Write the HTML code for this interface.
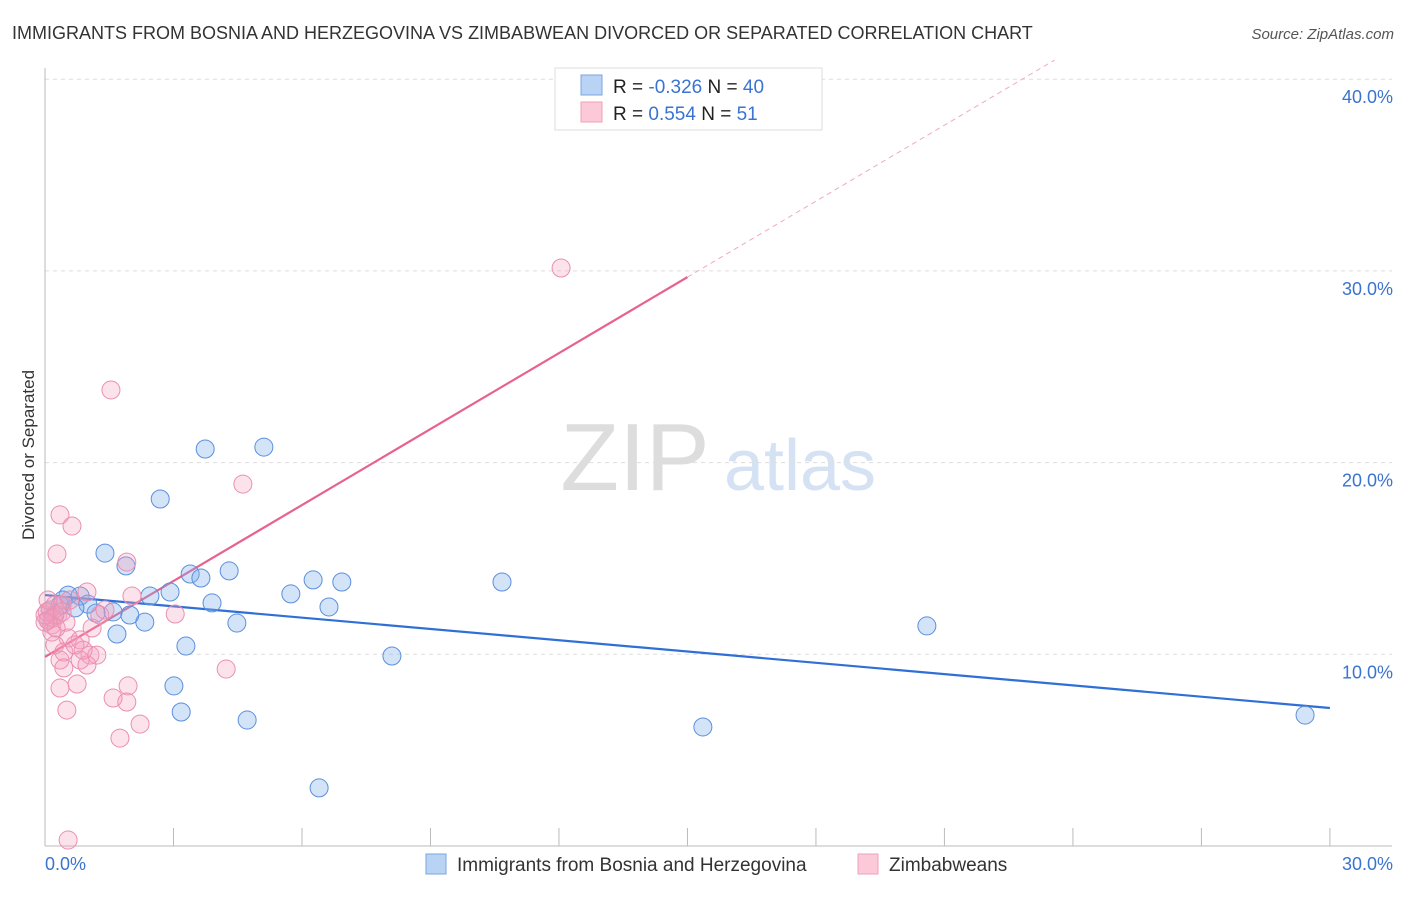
<!DOCTYPE html>
<html><head><meta charset="utf-8"><style>
body{margin:0;background:#fff;font-family:"Liberation Sans",sans-serif;}
svg text{font-family:"Liberation Sans",sans-serif;}
</style></head><body>
<svg id="chart" width="1406" height="892" xmlns="http://www.w3.org/2000/svg">
<text x="12" y="39" font-size="18" fill="#333">IMMIGRANTS FROM BOSNIA AND HERZEGOVINA VS ZIMBABWEAN DIVORCED OR SEPARATED CORRELATION CHART</text>
<text x="1394" y="39" font-size="15" fill="#555" text-anchor="end" font-style="italic">Source: ZipAtlas.com</text>
<g>
<text x="635" y="490" font-size="96" fill="#ddd" text-anchor="middle" font-family="Liberation Serif">ZIP</text>
<text x="800" y="490" font-size="72" fill="#d4e2f4" text-anchor="middle">atlas</text>
</g>
<g id="grid"></g><g id="axes"></g>
<text transform="translate(34,455) rotate(-90)" font-size="17" fill="#333" text-anchor="middle">Divorced or Separated</text>
<g id="trend"></g><g id="points"></g>
<g>
<rect x="555" y="68" width="267" height="62" fill="#fff" stroke="#ddd"/>
<rect x="581" y="75" width="21" height="20" fill="#b9d3f5" stroke="#7aa6e0"/>
<rect x="581" y="102" width="21" height="20" fill="#fcc9d8" stroke="#eea0b8"/>
<text x="613" y="93" font-size="19" fill="#222">R = <tspan fill="#3a73d0">-0.326</tspan>   N = <tspan fill="#3a73d0">40</tspan></text>
<text x="613" y="120" font-size="19" fill="#222">R =  <tspan fill="#3a73d0">0.554</tspan>   N =  <tspan fill="#3a73d0">51</tspan></text>
</g>
<g>
<rect x="426" y="854" width="20" height="20" fill="#b9d3f5" stroke="#7aa6e0"/>
<text x="457" y="871" font-size="19" fill="#333">Immigrants from Bosnia and Herzegovina</text>
<rect x="858" y="854" width="20" height="20" fill="#fcc9d8" stroke="#eea0b8"/>
<text x="889" y="871" font-size="19" fill="#333">Zimbabweans</text>
</g>
</svg>
<script>
const blueX=[1.40,1.89,2.69,3.74,5.11,3.39,3.64,4.30,2.92,2.45,3.90,2.33,1.98,1.59,1.19,1.68,3.29,4.48,5.74,6.26,6.93,6.63,10.67,8.10,3.01,3.18,4.72,6.40,20.59,15.36,29.42,0.54,0.82,1.00,0.35,0.12,0.23,0.42,0.70,0.07];
const blueY=[15.28,14.61,18.10,20.71,20.81,14.19,13.98,14.35,13.25,13.04,12.68,11.68,12.05,12.21,12.15,11.06,10.43,11.63,13.15,13.88,13.77,12.47,13.77,9.91,8.35,6.99,6.57,3.03,11.48,6.21,6.83,13.09,13.04,12.62,12.57,12.31,12.05,12.83,12.42,11.79];
const pinkX=[1.54,4.62,12.05,0.35,0.63,0.28,1.91,0.98,2.03,3.04,1.10,0.54,0.23,0.82,0.44,1.05,1.21,0.82,0.35,0.44,0.98,0.75,0.35,0.51,1.59,1.94,1.91,4.23,2.22,1.75,0.54,0.07,0.12,0.23,0.16,0.30,0.0,0.40,1.28,0.58,0.07,0.16,0.70,1.40,0.05,0.19,0.40,0.26,0.0,0.49,0.89];
const pinkY=[23.79,18.88,30.15,17.27,16.69,15.23,14.81,13.25,13.04,12.10,11.37,10.85,10.49,10.75,10.12,9.96,9.96,9.70,9.70,9.29,9.44,8.45,8.24,7.09,7.72,8.35,7.51,9.23,6.36,5.63,0.31,11.79,12.31,12.57,11.53,12.05,12.05,12.57,12.05,12.83,12.83,11.16,10.49,12.31,12.21,11.89,12.21,11.37,11.68,11.68,10.22];
const yTicks=[10,20,30,40];
const yTickLabels=["10.0%","20.0%","30.0%","40.0%"];
const xTickLabels=["0.0%","30.0%"];
const blueTrend=[13.09,7.20];
const pinkTrend=[9.86,1.321];
const NS="http://www.w3.org/2000/svg";
const sx=v=>45+v*42.83, sy=v=>846-v*19.17;
function mk(p,t,a){const e=document.createElementNS(NS,t);for(const k in a)e.setAttribute(k,a[k]);p.appendChild(e);return e;}
const grid=document.getElementById('grid'),axes=document.getElementById('axes'),trend=document.getElementById('trend'),pts=document.getElementById('points');
yTicks.forEach((t,i)=>{
 const l=mk(grid,'line',{x1:45,x2:1392,y1:sy(t),y2:sy(t),stroke:'#ddd','stroke-dasharray':'4,4'});
 
 
 const tx=mk(axes,'text',{x:1393,y:sy(t)+24,'font-size':18,fill:'#3a73d0','text-anchor':'end'});tx.textContent=yTickLabels[i];
 
 
});
mk(axes,'line',{x1:45,x2:45,y1:68,y2:846,stroke:'#bbb'});
mk(axes,'line',{x1:45,x2:1392,y1:846,y2:846,stroke:'#bbb'});
for(let i=0;i<=10;i++){const l=mk(axes,'line',{x1:sx(i*3),x2:sx(i*3),y1:828,y2:846,stroke:'#bbb'});
 
 }
const x0=mk(axes,'text',{x:45,y:870,'font-size':18,fill:'#3a73d0'});x0.textContent=xTickLabels[0];


const x1=mk(axes,'text',{x:1393,y:870,'font-size':18,fill:'#3a73d0','text-anchor':'end'});x1.textContent=xTickLabels[1];


function dot(x,y,f,s,n){const c=mk(pts,'circle',{cx:sx(x),cy:sy(y),r:9,fill:f,stroke:s,'stroke-width':1});
 
 }
blueX.forEach((x,i)=>dot(x,blueY[i],'rgba(130,175,235,0.35)','#5b8fdc','bosnia-point'));
pinkX.forEach((x,i)=>dot(x,pinkY[i],'rgba(245,160,190,0.3)','#ea8fb0','zimbabwean-point'));
const bt=mk(trend,'line',{x1:sx(0),y1:sy(blueTrend[0]),x2:sx(30),y2:sy(blueTrend[1]),stroke:'#2f6fd6','stroke-width':2.2});


const pe=15,pd=(41-pinkTrend[0])/pinkTrend[1];
const pt=mk(trend,'line',{x1:sx(0),y1:sy(pinkTrend[0]),x2:sx(pe),y2:sy(pinkTrend[0]+pinkTrend[1]*pe),stroke:'#e8628f','stroke-width':2.2});


const pdl=mk(trend,'line',{x1:sx(pe),y1:sy(pinkTrend[0]+pinkTrend[1]*pe),x2:sx(pd),y2:sy(41),stroke:'#f0a8c0','stroke-width':1,'stroke-dasharray':'5,4'});


</script>
</body></html>
